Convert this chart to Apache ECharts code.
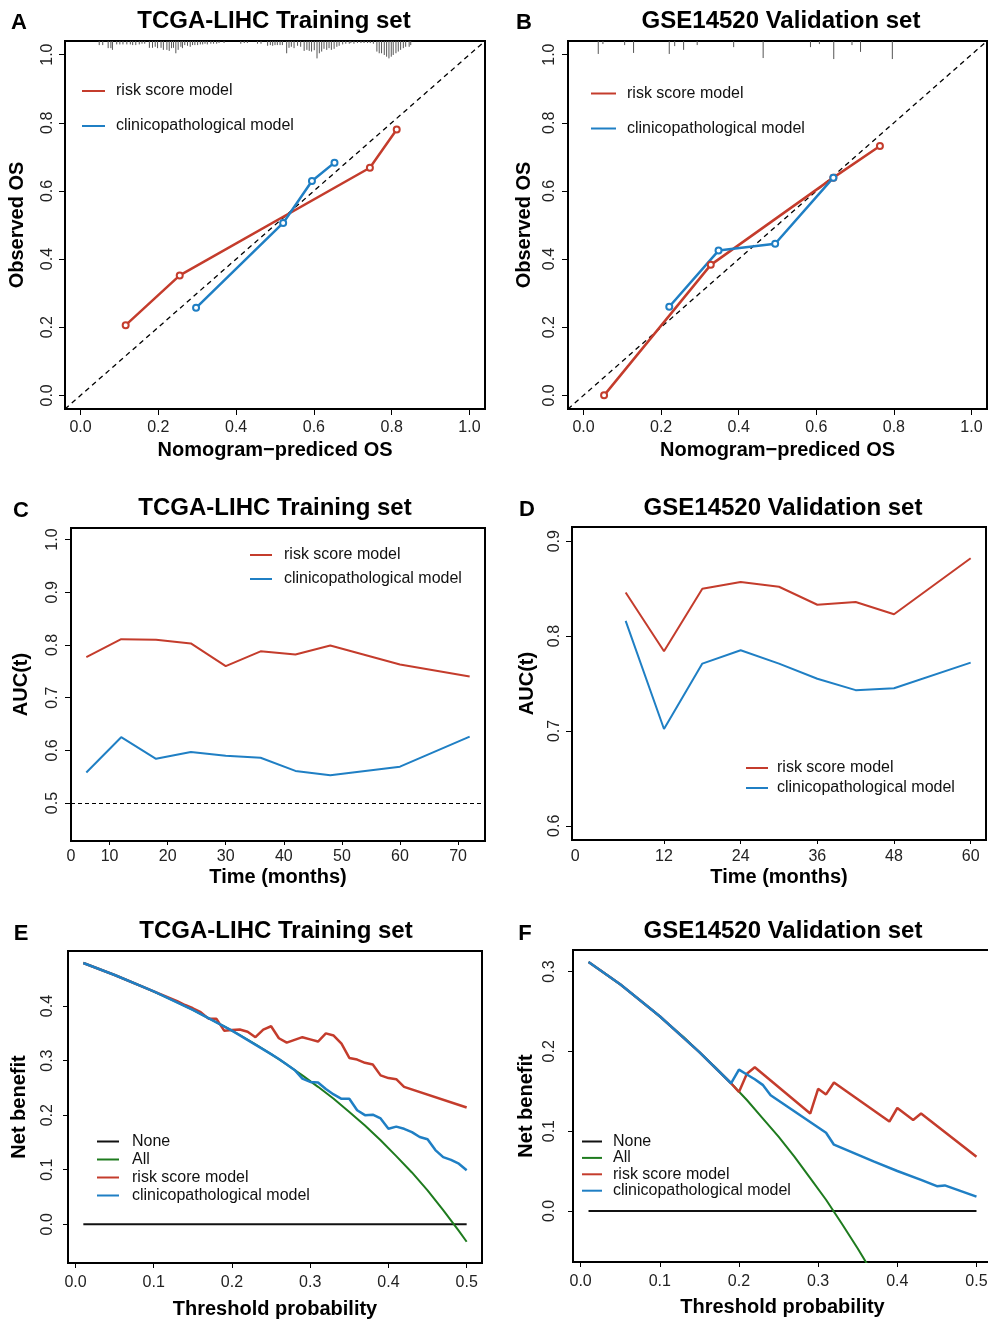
<!DOCTYPE html>
<html>
<head>
<meta charset="UTF-8">
<title>Nomogram calibration, AUC(t) and decision curves</title>
<script src="https://cdn.jsdelivr.net/npm/echarts@6/dist/echarts.min.js"></script>
<style>
html, body { margin: 0; padding: 0; background: #fff; }
#main { width: 988px; height: 1322px; }
</style>
</head>
<body>
<div id="main"></div>
<script>
// ---------------- data ----------------
// A / B : calibration curves
var calTicks = [0, 0.2, 0.4, 0.6, 0.8, 1.0];
var calIdealX = [-0.04, 1.04];
var calIdealY = [-0.04, 1.04];

var calA_riskX = [0.116, 0.255, 0.744, 0.813];
var calA_riskY = [0.206, 0.352, 0.668, 0.780];
var calA_clinX = [0.297, 0.521, 0.595, 0.653];
var calA_clinY = [0.257, 0.506, 0.629, 0.683];

var calB_riskX = [0.053, 0.328, 0.644, 0.764];
var calB_riskY = [0.000, 0.383, 0.639, 0.732];
var calB_clinX = [0.221, 0.348, 0.494, 0.644];
var calB_clinY = [0.260, 0.425, 0.445, 0.639];

// distribution of predicted values (spikes hanging from the top border)
var rugA_x = [0.048,0.057,0.071,0.078,0.082,0.093,0.101,0.109,0.119,0.128,0.134,0.142,0.151,0.158,0.165,
  0.177,0.185,0.192,0.198,0.207,0.213,0.222,0.228,0.234,0.239,0.245,0.251,0.258,0.262,0.268,0.275,0.282,
  0.288,0.294,0.301,0.308,0.314,0.320,0.326,0.335,0.342,0.350,0.356,0.369,0.412,0.421,0.429,0.455,0.464,
  0.481,0.488,0.494,0.500,0.506,0.513,0.519,0.530,0.536,0.542,0.549,0.558,0.566,0.575,0.582,0.588,0.594,
  0.601,0.608,0.614,0.620,0.626,0.633,0.639,0.645,0.652,0.659,0.665,0.674,0.682,0.691,0.695,0.703,0.712,
  0.721,0.729,0.738,0.745,0.753,0.762,0.768,0.774,0.781,0.787,0.793,0.799,0.804,0.811,0.817,0.823,0.830,
  0.836,0.845,0.849];
var rugA_h = [0.012,0.012,0.021,0.021,0.026,0.010,0.010,0.010,0.010,0.010,0.012,0.012,0.010,0.008,0.008,
  0.020,0.020,0.017,0.021,0.020,0.026,0.026,0.029,0.021,0.020,0.036,0.026,0.017,0.021,0.012,0.014,0.017,
  0.012,0.012,0.012,0.010,0.010,0.008,0.010,0.008,0.008,0.008,0.006,0.006,0.008,0.006,0.006,0.008,0.008,
  0.014,0.012,0.014,0.012,0.012,0.012,0.012,0.036,0.020,0.017,0.021,0.014,0.017,0.029,0.026,0.029,0.031,
  0.027,0.051,0.036,0.031,0.023,0.026,0.021,0.026,0.023,0.017,0.014,0.010,0.008,0.008,0.006,0.008,0.006,
  0.006,0.006,0.006,0.006,0.008,0.031,0.036,0.036,0.041,0.046,0.051,0.046,0.041,0.036,0.031,0.026,0.021,
  0.017,0.017,0.012];
var rugB_x = [0.038,0.050,0.106,0.129,0.221,0.235,0.258,0.293,0.387,0.463,0.585,0.608,0.645,0.692,0.714,0.796];
var rugB_h = [0.038,0.009,0.012,0.035,0.038,0.015,0.026,0.012,0.018,0.050,0.018,0.009,0.053,0.012,0.032,0.053];

// C / D : time-dependent AUC
var aucTicksC = [3.36, 10, 20, 30, 40, 50, 60, 70];
var aucLabelsC = ['0', '10', '20', '30', '40', '50', '60', '70'];
var aucMonthsC = [6, 12, 18, 24, 30, 36, 42, 48, 60, 72];
var aucC_risk = [0.777, 0.811, 0.810, 0.803, 0.760, 0.788, 0.782, 0.799, 0.763, 0.740];
var aucC_clin = [0.558, 0.625, 0.584, 0.597, 0.590, 0.586, 0.561, 0.553, 0.569, 0.626];
var aucRefC = 0.5;

var aucTicksD = [-1.9, 12, 24, 36, 48, 60];
var aucLabelsD = ['0', '12', '24', '36', '48', '60'];
var aucMonthsD = [6, 12, 18, 24, 30, 36, 42, 48, 60];
var aucD_risk = [0.846, 0.784, 0.850, 0.857, 0.852, 0.833, 0.836, 0.823, 0.882];
var aucD_clin = [0.816, 0.702, 0.771, 0.785, 0.771, 0.755, 0.743, 0.745, 0.772];

// E / F : decision curves
var dcaTicksX = [0, 0.1, 0.2, 0.3, 0.4, 0.5];
var dcaNoneX = [0.01, 0.50];
var dcaNoneY = [0, 0];

var dcaE_allX = [0.01,0.03,0.05,0.07,0.09,0.11,0.13,0.15,0.17,0.19,0.21,0.23,0.25,0.27,0.29,0.31,0.33,
  0.35,0.37,0.39,0.41,0.43,0.45,0.47,0.49,0.50];
var dcaE_allY = [0.479,0.468,0.457,0.445,0.433,0.420,0.407,0.393,0.378,0.363,0.347,0.330,0.312,0.293,0.273,
  0.252,0.230,0.206,0.181,0.154,0.125,0.095,0.062,0.026,-0.012,-0.032];
var dcaE_riskX = [0.01,0.05,0.10,0.11,0.12,0.13,0.14,0.15,0.16,0.17,0.18,0.19,0.20,0.21,0.22,0.23,0.24,
  0.25,0.26,0.27,0.28,0.29,0.30,0.31,0.32,0.33,0.34,0.35,0.36,0.37,0.38,0.39,0.40,0.41,0.42,0.50];
var dcaE_riskY = [0.479,0.457,0.427,0.421,0.415,0.409,0.402,0.396,0.389,0.377,0.377,0.355,0.356,0.357,0.353,
  0.343,0.357,0.363,0.341,0.333,0.338,0.343,0.339,0.335,0.350,0.346,0.331,0.305,0.302,0.296,0.293,0.273,
  0.268,0.266,0.252,0.214];
var dcaE_clinX = [0.01,0.05,0.10,0.15,0.20,0.25,0.26,0.27,0.28,0.29,0.30,0.31,0.32,0.33,0.34,0.35,0.36,
  0.37,0.38,0.39,0.40,0.41,0.42,0.43,0.44,0.45,0.46,0.47,0.48,0.49,0.50];
var dcaE_clinY = [0.479,0.457,0.427,0.393,0.355,0.312,0.303,0.293,0.283,0.267,0.261,0.260,0.248,0.238,0.230,
  0.230,0.209,0.200,0.201,0.194,0.175,0.179,0.175,0.169,0.160,0.156,0.136,0.123,0.118,0.111,0.099];

var dcaF_allX = [0.01,0.03,0.05,0.07,0.09,0.11,0.13,0.15,0.17,0.19,0.21,0.23,0.25,0.27,0.29,0.31,0.33,
  0.35,0.37];
var dcaF_allY = [0.312,0.298,0.284,0.268,0.252,0.235,0.218,0.199,0.180,0.160,0.139,0.116,0.093,0.068,0.041,
  0.014,-0.016,-0.047,-0.080];
var dcaF_riskX = [0.01,0.05,0.10,0.15,0.19,0.20,0.21,0.22,0.29,0.30,0.31,0.32,0.39,0.40,0.42,0.43,0.50];
var dcaF_riskY = [0.312,0.284,0.244,0.199,0.160,0.149,0.172,0.180,0.122,0.153,0.146,0.161,0.112,0.129,0.114,0.122,0.068];
var dcaF_clinX = [0.01,0.05,0.10,0.15,0.19,0.20,0.21,0.22,0.23,0.24,0.31,0.32,0.37,0.40,0.43,0.45,0.46,0.50];
var dcaF_clinY = [0.312,0.284,0.244,0.199,0.160,0.177,0.171,0.165,0.158,0.145,0.098,0.083,0.062,0.050,0.039,0.031,0.032,0.018];

// ---------------- styling ----------------
var RED = '#c43c2c', BLUE = '#1f7fc4', GREEN = '#1e7b1e', BLACK = '#111';
var FONT = '"Liberation Sans", Arial, Helvetica, sans-serif';
var RISK = 'risk score model', CLIN = 'clinicopathological model';

function zip(xs, ys) {
	return xs.map(function (x, i) { return [x, ys[i]]; });
}
function fix1(v) { return v.toFixed(1); }
function lookup(ticks, labels) {
	return function (v) {
		for (var i = 0; i < ticks.length; i++) {
			if (Math.abs(ticks[i] - v) < 1e-6) return labels[i];
		}
		return '';
	};
}

// one axis, R base graphics look: box from grid border, ticks outside
function axis(gi, pos, o) {
	return {
		type: 'value', gridIndex: gi, position: pos,
		min: o.min, max: o.max,
		name: o.name, nameLocation: 'middle', nameGap: o.nameGap,
		nameTextStyle: { fontFamily: FONT, fontSize: 20, fontWeight: 'bold', color: '#000' },
		axisLine: { show: false, onZero: false },
		splitLine: { show: false },
		axisTick: { show: true, inside: false, length: o.tickLen, customValues: o.ticks,
			lineStyle: { color: '#000', width: 1 } },
		axisLabel: { show: true, customValues: o.labels, margin: o.margin,
			rotate: pos === 'left' ? 90 : 0, formatter: o.fmt, hideOverlap: false,
			fontFamily: FONT, fontSize: 16, color: '#222' }
	};
}

function legendBox(names, colors, left, top, gap, w, pad) {
	return {
		orient: 'vertical', left: left, top: top, padding: 0,
		itemGap: gap, itemWidth: w, itemHeight: 2, selectedMode: false,
		textStyle: { fontFamily: FONT, fontSize: 16, color: '#111', lineHeight: 16, padding: [0, 0, 0, pad] },
		data: names.map(function (n, i) {
			return { name: n, icon: 'rect', itemStyle: { color: colors[i], borderWidth: 0 } };
		})
	};
}

function calSeries(gi, name, xs, ys, color) {
	return {
		name: name, type: 'line', xAxisIndex: gi, yAxisIndex: gi,
		data: zip(xs, ys), symbol: 'emptyCircle', symbolSize: 6,
		itemStyle: { color: color, borderWidth: 2 },
		lineStyle: { color: color, width: 2.5 }
	};
}

function plainLine(gi, name, data, color, width, extra) {
	var s = {
		name: name, type: 'line', xAxisIndex: gi, yAxisIndex: gi,
		data: data, symbol: 'none', clip: true,
		itemStyle: { color: color },
		lineStyle: { color: color, width: width }
	};
	for (var k in extra) s[k] = extra[k];
	return s;
}

function rugSeries(gi, xs, hs, yTop) {
	return {
		type: 'custom', xAxisIndex: gi, yAxisIndex: gi, silent: true,
		data: zip(xs, hs),
		renderItem: function (params, api) {
			var x = api.value(0), h = api.value(1);
			var p1 = api.coord([x, yTop]);
			var p2 = api.coord([x, yTop - h]);
			return { type: 'line', shape: { x1: p1[0], y1: p1[1], x2: p2[0], y2: p2[1] },
				style: { stroke: '#555', lineWidth: 1 } };
		}
	};
}

function heading(text, x, top, size) {
	return { text: text, left: x, top: top, textAlign: 'center', padding: 0,
		textStyle: { fontFamily: FONT, fontSize: size, fontWeight: 'bold', color: '#000', lineHeight: size } };
}

var grid = function (l, t, w, h) {
	return { left: l, top: t, width: w, height: h, show: true, borderColor: '#000', borderWidth: 2,
		backgroundColor: 'transparent', containLabel: false, outerBoundsMode: 'none' };
};

var option = {
	animation: false,
	backgroundColor: '#fff',
	textStyle: { fontFamily: FONT },
	title: [
		heading('A', 19, 12, 22), heading('TCGA-LIHC Training set', 274, 9, 24),
		heading('B', 524, 12, 22), heading('GSE14520 Validation set', 781, 9, 24),
		heading('C', 21, 500, 22), heading('TCGA-LIHC Training set', 275, 496, 24),
		heading('D', 527, 499, 22), heading('GSE14520 Validation set', 783, 496, 24),
		heading('E', 21, 923, 22), heading('TCGA-LIHC Training set', 276, 919, 24),
		heading('F', 525, 923, 22), heading('GSE14520 Validation set', 783, 919, 24)
	],
	grid: [
		grid(65, 41, 420, 368),
		grid(568, 41, 419, 368),
		grid(71, 528, 414, 313),
		grid(572, 527, 414, 313),
		grid(68, 951, 414, 312),
		grid(573, 950, 419, 312)
	],
	xAxis: [
		axis(0, 'bottom', { min: -0.04, max: 1.04, ticks: calTicks, labels: calTicks, fmt: fix1, margin: 11, tickLen: 6,
			name: 'Nomogram\u2212prediced OS', nameGap: 31 }),
		axis(1, 'bottom', { min: -0.04, max: 1.04, ticks: calTicks, labels: calTicks, fmt: fix1, margin: 11, tickLen: 6,
			name: 'Nomogram\u2212prediced OS', nameGap: 31 }),
		axis(2, 'bottom', { min: 3.36, max: 74.64, ticks: aucTicksC.slice(1), labels: aucTicksC,
			fmt: lookup(aucTicksC, aucLabelsC), margin: 8, tickLen: 4, name: 'Time (months)', nameGap: 26 }),
		axis(3, 'bottom', { min: -2.4, max: 62.4, ticks: aucTicksD.slice(1), labels: aucTicksD,
			fmt: lookup(aucTicksD, aucLabelsD), margin: 9, tickLen: 4, name: 'Time (months)', nameGap: 27 }),
		axis(4, 'bottom', { min: -0.0096, max: 0.5196, ticks: dcaTicksX, labels: dcaTicksX, fmt: fix1, margin: 12, tickLen: 5,
			name: 'Threshold probability', nameGap: 36 }),
		axis(5, 'bottom', { min: -0.0096, max: 0.5196, ticks: dcaTicksX, labels: dcaTicksX, fmt: fix1, margin: 12, tickLen: 5,
			name: 'Threshold probability', nameGap: 35 })
	],
	yAxis: [
		axis(0, 'left', { min: -0.04, max: 1.04, ticks: calTicks, labels: calTicks, fmt: fix1, margin: 9, tickLen: 6,
			name: 'Observed OS', nameGap: 38 }),
		axis(1, 'left', { min: -0.04, max: 1.04, ticks: calTicks, labels: calTicks, fmt: fix1, margin: 10, tickLen: 6,
			name: 'Observed OS', nameGap: 34 }),
		axis(2, 'left', { min: 0.428, max: 1.022, ticks: [0.5, 0.6, 0.7, 0.8, 0.9, 1.0], labels: [0.5, 0.6, 0.7, 0.8, 0.9, 1.0],
			fmt: fix1, margin: 10, tickLen: 6, name: 'AUC(t)', nameGap: 40 }),
		axis(3, 'left', { min: 0.585, max: 0.915, ticks: [0.6, 0.7, 0.8, 0.9], labels: [0.6, 0.7, 0.8, 0.9],
			fmt: fix1, margin: 9, tickLen: 6, name: 'AUC(t)', nameGap: 35 }),
		axis(4, 'left', { min: -0.071, max: 0.501, ticks: [0, 0.1, 0.2, 0.3, 0.4], labels: [0, 0.1, 0.2, 0.3, 0.4],
			fmt: fix1, margin: 12, tickLen: 5, name: 'Net benefit', nameGap: 39 }),
		axis(5, 'left', { min: -0.064, max: 0.327, ticks: [0, 0.1, 0.2, 0.3], labels: [0, 0.1, 0.2, 0.3],
			fmt: fix1, margin: 15, tickLen: 5, name: 'Net benefit', nameGap: 37 })
	],
	legend: [
		legendBox([RISK, CLIN], [RED, BLUE], 82, 83, 19, 23, 6),
		legendBox([RISK, CLIN], [RED, BLUE], 591, 85.5, 19, 25, 6),
		legendBox([RISK, CLIN], [RED, BLUE], 250, 547, 8, 22, 7),
		legendBox([RISK, CLIN], [RED, BLUE], 746, 760, 4, 22, 4),
		legendBox(['None', 'All', RISK, CLIN], [BLACK, GREEN, RED, BLUE], 97, 1133.5, 2, 22, 8),
		legendBox(['None', 'All', RISK, CLIN], [BLACK, GREEN, RED, BLUE], 582, 1133.5, 0.4, 20, 6)
	],
	series: [
		// A
		plainLine(0, 'ideal', zip(calIdealX, calIdealY), '#000', 1.3, { lineStyle: { color: '#000', width: 1.3, type: [5, 4] } }),
		rugSeries(0, rugA_x, rugA_h, 1.04),
		calSeries(0, RISK, calA_riskX, calA_riskY, RED),
		calSeries(0, CLIN, calA_clinX, calA_clinY, BLUE),
		// B
		plainLine(1, 'ideal', zip(calIdealX, calIdealY), '#000', 1.3, { lineStyle: { color: '#000', width: 1.3, type: [5, 4] } }),
		rugSeries(1, rugB_x, rugB_h, 1.04),
		calSeries(1, RISK, calB_riskX, calB_riskY, RED),
		calSeries(1, CLIN, calB_clinX, calB_clinY, BLUE),
		// C
		plainLine(2, RISK, zip(aucMonthsC, aucC_risk), RED, 2, {
			markLine: { silent: true, symbol: 'none', label: { show: false },
				lineStyle: { color: '#000', width: 1, type: [4, 3] }, data: [{ yAxis: aucRefC }] }
		}),
		plainLine(2, CLIN, zip(aucMonthsC, aucC_clin), BLUE, 2),
		// D
		plainLine(3, RISK, zip(aucMonthsD, aucD_risk), RED, 2),
		plainLine(3, CLIN, zip(aucMonthsD, aucD_clin), BLUE, 2),
		// E
		plainLine(4, 'None', zip(dcaNoneX, dcaNoneY), BLACK, 2),
		plainLine(4, 'All', zip(dcaE_allX, dcaE_allY), GREEN, 2),
		plainLine(4, RISK, zip(dcaE_riskX, dcaE_riskY), RED, 2.5),
		plainLine(4, CLIN, zip(dcaE_clinX, dcaE_clinY), BLUE, 2.5),
		// F
		plainLine(5, 'None', zip(dcaNoneX, dcaNoneY), BLACK, 2),
		plainLine(5, 'All', zip(dcaF_allX, dcaF_allY), GREEN, 2),
		plainLine(5, RISK, zip(dcaF_riskX, dcaF_riskY), RED, 2.5),
		plainLine(5, CLIN, zip(dcaF_clinX, dcaF_clinY), BLUE, 2.5)
	]
};

var chart = echarts.init(document.getElementById('main'), null, { renderer: 'canvas' });
chart.setOption(option);
</script>
</body>
</html>
